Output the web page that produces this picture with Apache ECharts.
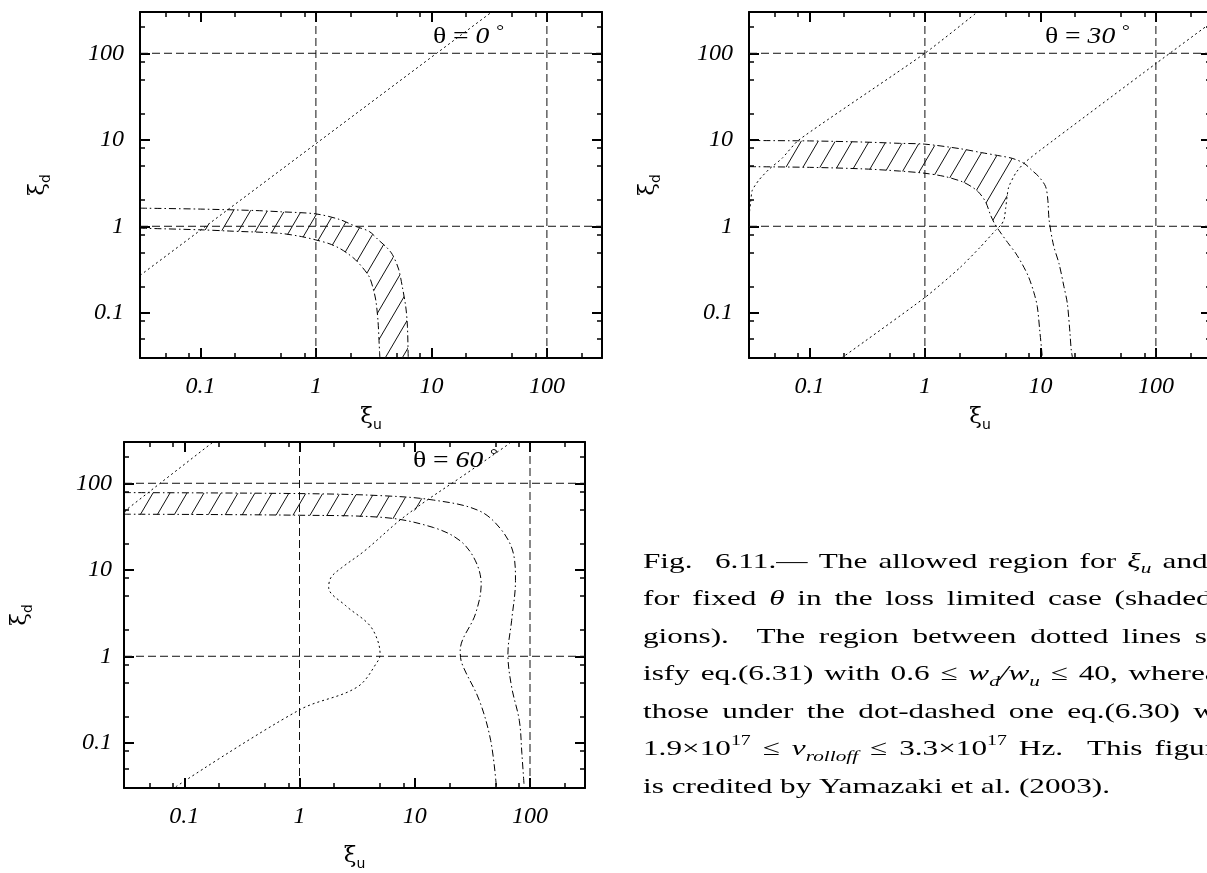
<!DOCTYPE html>
<html><head><meta charset="utf-8">
<script src="https://cdn.jsdelivr.net/npm/echarts@6/dist/echarts.min.js"></script>
<style>html,body{margin:0;padding:0;background:#fff}#c{width:1207px;height:873px}</style>
</head><body><div id="c"></div>
<script>
// ---------- data ----------
const axisMin = 0.03, axisMax = 300;
const majorTicks = [0.1, 1, 10, 100];
const minorTicks = [0.05, 0.08, 0.2, 0.5, 0.8, 2, 5, 8, 20, 50, 80, 200];
const refValues = [1, 100];
const thetaValues = ['0', '30', '60'];

// panel 1 (theta = 0)
const p1Dotted = [[0.03, 0.27], [33.3, 300]];
const p1Outer = [[0.03,1.62],[0.1,1.58],[0.3,1.52],[0.5,1.47],[1,1.39],[1.6,1.2],[2.2,1.0],[2.9,0.87],[3.5,0.69],[4.1,0.57],[4.6,0.47],[5.2,0.32],[5.6,0.2],[6.0,0.117],[6.2,0.07],[6.3,0.031],[6.32,0.03]];
const p1Inner = [[0.03,0.95],[0.1,0.91],[0.18,0.88],[0.48,0.83],[0.75,0.76],[1,0.695],[1.3,0.63],[1.6,0.557],[1.9,0.48],[2.2,0.41],[2.55,0.33],[2.9,0.26],[3.1,0.2],[3.3,0.14],[3.45,0.08],[3.53,0.044],[3.58,0.03]];
const p1HatchStart = [0.176, 1.58];
const p1HatchEnd = [0.101, 0.91];

// panel 2 (theta = 30)
const p2DotA = [[0.03,1.3],[0.031,1.9],[0.032,2.6],[0.0366,3.43],[0.0447,4.56],[0.058,6.1],[0.081,9.95],[1,100],[2.85,300]];
const p2DotB = [[0.19,0.03],[1,0.15],[2,0.33],[3,0.57],[4.1,0.9],[4.6,1.05],[4.85,1.2],[5.0,1.6],[5.3,2.8],[6.1,4.1],[7.2,5.35],[10,7.6],[100,76],[300,225]];
const p2Outer = [[0.03,9.8],[0.1,9.7],[0.3,9.4],[0.6,9.1],[1,8.9],[2,7.9],[3.1,7.1],[4.5,6.5],[5.7,6.1],[7.2,5.35],[8.5,4.4],[9.7,3.74],[11.1,2.87],[11.6,2.0],[11.9,1.18],[13,0.6],[14.5,0.37],[16,0.2],[17.1,0.129],[18,0.06],[18.5,0.037],[19,0.03]];
const p2Inner = [[0.03,4.89],[0.1,4.8],[0.3,4.6],[0.6,4.35],[1,4.1],[1.5,3.75],[2.1,3.28],[2.5,2.9],[2.9,2.5],[3.35,1.92],[3.7,1.35],[4.0,1.08],[4.37,0.9],[5.2,0.65],[6.1,0.49],[7.0,0.36],[7.9,0.26],[8.8,0.17],[9.4,0.118],[9.9,0.06],[10.2,0.04],[10.4,0.03]];
const p2HatchCorners = [[0.08, 9.72], [4.2, 0.98], [0.047, 4.85]];

// panel 3 (theta = 60)
const p3DotA = [[0.03,47],[0.0617,100],[0.178,300]];
const p3DotB = [[0.0845,0.031],[1,0.24],[3.16,0.44],[4.81,0.89],[5.0,1.06],[4.7,1.6],[3.97,2.36],[2.52,3.84],[1.79,6.25],[1.88,8.2],[2.33,10.6],[3.68,16.6],[7.3,36.7],[12.5,62.5],[24.8,116],[61.9,270],[68,300]];
const p3Outer = [[0.03,78],[1,76],[5,72],[14.5,64],[36.3,48],[57.3,28.2],[72,15.1],[74.8,7.5],[69.3,2.6],[64.3,1.06],[69.3,0.44],[80.8,0.18],[85,0.075],[89,0.031]];
const p3Inner = [[0.03,43.9],[1,42.7],[5.4,40.2],[14.5,30.8],[24.8,21.6],[33.6,12.7],[37.7,6.8],[33.6,3.08],[24.8,1.16],[25.7,0.82],[36.3,0.31],[45.6,0.106],[51.1,0.031]];
const p3HatchCorners = [[7.7, 37.5], [13.6, 66], [0.048, 77.5]];

const captionLines = [
  '{r|Fig.  6.11.— The allowed region for }{i|ξ}{s|u}{r| and }{i|ξ}{s|d}',
  '{r|for fixed }{i|θ}{r| in the loss limited case (shaded re-}',
  '{r|gions).  The region between dotted lines sat-}',
  '{r|isfy eq.(6.31) with 0.6 ≤ }{i|w}{s|d}{i|/w}{s|u}{r| ≤ 40, whereas}',
  '{r|those under the dot-dashed one eq.(6.30) with}',
  '{r|1.9×10}{p|17}{r| ≤ }{i|ν}{s|rolloff}{r| ≤ 3.3×10}{p|17}{r| Hz.  This figure}',
  '{r|is credited by Yamazaki et al. (2003).}'
];
const captionGap = [7.9, 9.0, 9.7, 7.6, 9.4, 8.4, 5.5];

// ---------- hatch polygons (boundary composed from the curves) ----------
const p1Hatch = [p1HatchStart]
  .concat(p1Outer.filter(p => p[0] > 0.2))
  .concat(p1Inner.filter(p => p[0] > 0.105).slice().reverse())
  .concat([p1HatchEnd]);
const p2Hatch = [p2HatchCorners[0]]
  .concat(p2Outer.filter(p => p[0] > 0.085 && p[0] < 7.2))
  .concat(p2DotB.filter(p => p[0] >= 4.5 && p[0] <= 7.2).slice().reverse())
  .concat([p2HatchCorners[1]])
  .concat(p2Inner.filter(p => p[0] < 4.2 && p[0] > 0.05).slice().reverse())
  .concat([p2HatchCorners[2], [0.058, 6.1]]);
const p3Hatch = [p3Inner[0]]
  .concat(p3Inner.filter(p => p[0] > 0.05 && p[0] < 7.7))
  .concat([p3HatchCorners[0], p3HatchCorners[1]])
  .concat(p3Outer.filter(p => p[0] > 0.05 && p[0] < 13.6 && p[1] > 60).slice().reverse())
  .concat([p3HatchCorners[2], p3DotA[0]]);

// ---------- styles ----------
function makeHatch() {
  const w = 17, h = 29;
  const c = document.createElement('canvas'); c.width = w; c.height = h;
  const ctx = c.getContext('2d');
  ctx.strokeStyle = '#111'; ctx.lineWidth = 1;
  for (let k = -1; k <= 1; k++) {
    ctx.beginPath(); ctx.moveTo(k * w - w, 2 * h); ctx.lineTo(k * w + 2 * w, -h); ctx.stroke();
  }
  return c;
}
const hatchPattern = { image: makeHatch(), repeat: 'repeat' };

const SERIF = '"Liberation Serif", "Times New Roman", serif';
const DASH = [8, 4], DOT = [2, 3], DOTDASH = [7, 3, 1.5, 3];
const tickFont = { fontFamily: SERIF, fontStyle: 'italic', fontSize: 24, color: '#000' };
const nameRich = {
  x: { fontFamily: '"DejaVu Serif", serif', fontSize: 23, lineHeight: 30, verticalAlign: 'middle', color: '#000' },
  s: { fontFamily: '"DejaVu Sans", sans-serif', fontSize: 14, lineHeight: 14, verticalAlign: 'bottom', color: '#000' }
};
function fmt(v) { return v < 1 ? String(Number(v.toFixed(2))) : String(Math.round(v)); }

const grids = [
  { left: 140, top: 12, width: 462, height: 346 },
  { left: 749, top: 12, width: 462, height: 346 },
  { left: 124, top: 442, width: 461, height: 346 }
];
const xNameGap = [44, 44, 53];
const yNameGap = [87, 86, 89];
const yLabelMargin = [16, 16, 12];

const xAxes = [], yAxes = [];
grids.forEach((g, gi) => {
  const base = { gridIndex: gi, type: 'log', logBase: 10, min: axisMin, max: axisMax, splitLine: { show: false }, minorTick: { show: false } };
  const lineOn = { show: true, onZero: false, lineStyle: { color: '#000', width: 2 } };
  const major = { show: true, inside: true, length: 10, customValues: majorTicks, lineStyle: { color: '#000', width: 2 } };
  const minor = { show: true, inside: true, length: 5, customValues: minorTicks, lineStyle: { color: '#000', width: 1.5 } };
  const noLine = { show: false, onZero: false };
  const noLabel = { show: false };
  xAxes.push(
    Object.assign({}, base, { position: 'bottom', axisLine: lineOn, axisTick: major,
      axisLabel: Object.assign({ show: true, customValues: majorTicks, margin: 17, formatter: fmt }, tickFont),
      name: '{x|ξ}{s|u}', nameLocation: 'middle', nameGap: xNameGap[gi], nameTextStyle: { rich: nameRich } }),
    Object.assign({}, base, { position: 'bottom', axisLine: noLine, axisTick: minor, axisLabel: noLabel }),
    Object.assign({}, base, { position: 'top', axisLine: lineOn, axisTick: major, axisLabel: noLabel }),
    Object.assign({}, base, { position: 'top', axisLine: noLine, axisTick: minor, axisLabel: noLabel })
  );
  yAxes.push(
    Object.assign({}, base, { position: 'left', axisLine: lineOn, axisTick: major,
      axisLabel: Object.assign({ show: true, customValues: majorTicks, margin: yLabelMargin[gi], formatter: fmt }, tickFont),
      name: '{x|ξ}{s|d}', nameLocation: 'middle', nameRotate: 90, nameGap: yNameGap[gi], nameTextStyle: { rich: nameRich } }),
    Object.assign({}, base, { position: 'left', axisLine: noLine, axisTick: minor, axisLabel: noLabel }),
    Object.assign({}, base, { position: 'right', axisLine: lineOn, axisTick: major, axisLabel: noLabel }),
    Object.assign({}, base, { position: 'right', axisLine: noLine, axisTick: minor, axisLabel: noLabel })
  );
});

function lineS(gi, data, dash, smooth, color) {
  return { type: 'line', xAxisIndex: gi * 4, yAxisIndex: gi * 4, data: data, symbol: 'none', showSymbol: false,
    smooth: smooth || false, silent: true, z: 3, clip: true,
    lineStyle: { color: color || '#000', width: 1, type: dash } };
}
function hatchS(gi, pts) {
  return { type: 'custom', coordinateSystem: 'cartesian2d', xAxisIndex: gi * 4, yAxisIndex: gi * 4,
    data: [[1, 1]], silent: true, z: 1, clip: true,
    renderItem: function (params, api) {
      return { type: 'polygon', shape: { points: pts.map(p => api.coord(p)) },
        style: { fill: hatchPattern, stroke: null, lineWidth: 0 } };
    } };
}

const series = [];
[0, 1, 2].forEach(gi => {
  refValues.forEach(v => {
    series.push(lineS(gi, [[v, axisMin], [v, axisMax]], DASH, false, '#111'));
    series.push(lineS(gi, [[axisMin, v], [axisMax, v]], DASH, false, '#111'));
  });
});
series.push(hatchS(0, p1Hatch), hatchS(1, p2Hatch), hatchS(2, p3Hatch));
series.push(lineS(0, p1Dotted, DOT, false));
series.push(lineS(0, p1Outer, DOTDASH, 0.3), lineS(0, p1Inner, DOTDASH, 0.3));
series.push(lineS(1, p2DotA, DOT, 0.2), lineS(1, p2DotB, DOT, 0.2));
series.push(lineS(1, p2Outer, DOTDASH, 0.3), lineS(1, p2Inner, DOTDASH, 0.3));
series.push(lineS(2, p3DotA, DOT, false), lineS(2, p3DotB, DOT, 0.35));
series.push(lineS(2, p3Outer, DOTDASH, 0.35), lineS(2, p3Inner, DOTDASH, 0.35));

// ---------- text ----------
const thRich = {
  g: { fontFamily: SERIF, fontSize: 24, lineHeight: 28, verticalAlign: 'middle' },
  i: { fontFamily: SERIF, fontStyle: 'italic', fontSize: 24, lineHeight: 28, verticalAlign: 'middle' },
  o: { fontFamily: SERIF, fontSize: 17, lineHeight: 17, verticalAlign: 'top' }
};
const thetaPos = [[433, 37], [1045, 37], [413, 461]];
const graphics = thetaValues.map((t, k) => ({
  type: 'text', x: thetaPos[k][0], y: thetaPos[k][1], scaleX: 1.15, z: 10,
  style: { text: '{g|θ = }{i|' + t + '}{g| }{o|°}', rich: thRich, fill: '#000', verticalAlign: 'middle', align: 'left' }
}));
const capRich = {
  r: { fontFamily: SERIF, fontSize: 22, lineHeight: 30, verticalAlign: 'middle' },
  i: { fontFamily: SERIF, fontStyle: 'italic', fontSize: 22, lineHeight: 30, verticalAlign: 'middle' },
  s: { fontFamily: SERIF, fontStyle: 'italic', fontSize: 15, lineHeight: 15, verticalAlign: 'bottom' },
  p: { fontFamily: SERIF, fontSize: 14, lineHeight: 14, verticalAlign: 'top' }
};
captionGap.forEach((w, k) => { capRich['g' + k] = { width: w, fontSize: 22, lineHeight: 30, verticalAlign: 'middle' }; });
function spreadWords(line, k) {
  return line.replace(/\{(r|i)\|([^}]*)\}/g, function (m, st, txt) {
    return txt.split(' ').map(w => w ? '{' + st + '|' + w + '}' : '').join('{g' + k + '| }');
  });
}
const capTop = 562, capStep = 37.5;
captionLines.forEach((ln, k) => {
  graphics.push({ type: 'text', x: 643, y: capTop + k * capStep, scaleX: 1.42, z: 10,
    style: { text: spreadWords(ln, k), rich: capRich, fill: '#000', verticalAlign: 'middle', align: 'left' } });
});

const chart = echarts.init(document.getElementById('c'), null, { renderer: 'canvas', width: 1207, height: 873 });
chart.setOption({
  animation: false,
  backgroundColor: '#fff',
  grid: grids.map(g => Object.assign({ containLabel: false, outerBoundsMode: 'none', show: false }, g)),
  xAxis: xAxes,
  yAxis: yAxes,
  series: series,
  graphic: { elements: graphics }
});
</script></body></html>
